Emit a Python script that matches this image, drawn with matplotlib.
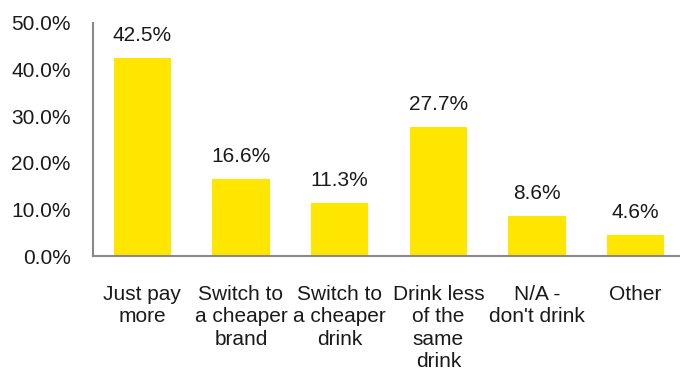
import matplotlib.pyplot as plt
from matplotlib.ticker import FuncFormatter

plt.rcParams['font.family'] = ['Liberation Sans', 'DejaVu Sans']

# Responses and share of respondents (%)
categories = ["Just pay\nmore", "Switch to\na cheaper\nbrand", "Switch to\na cheaper\ndrink",
              "Drink less\nof the\nsame\ndrink", "N/A -\ndon't drink", "Other"]
values = [42.5, 16.6, 11.3, 27.7, 8.6, 4.6]
yticks = [0, 10, 20, 30, 40, 50]

fig = plt.figure(figsize=(6.8, 3.74), dpi=100)
ax = fig.add_axes([93 / 680, 1 - 256 / 374, (685 - 93) / 680, (256 - 23) / 374])

x = range(len(values))
bars = ax.bar(x, values, width=0.58, color='#FFE600')

for xi, v in zip(x, values):
    ax.text(xi, v + 2.8, f"{v:.1f}%", ha='center', va='bottom', fontsize=15, color='#1a1a1a')

ax.set_xlim(-0.5, 5.5)
ax.set_ylim(0, 50)
ax.set_yticks(yticks)
ax.yaxis.set_major_formatter(FuncFormatter(lambda v, p: f"{v:.1f}%"))
ax.set_xticks(list(x))
ax.set_xticklabels(categories, fontsize=15, color='#1a1a1a', linespacing=1.22)
ax.tick_params(axis='y', length=0, pad=16, labelsize=15, labelcolor='#1a1a1a')
ax.tick_params(axis='x', length=0, pad=21)

for side in ['top', 'right']:
    ax.spines[side].set_visible(False)
for side in ['left', 'bottom']:
    ax.spines[side].set_color('#898989')
    ax.spines[side].set_linewidth(1.5)

fig.savefig('out.png', dpi=100)
